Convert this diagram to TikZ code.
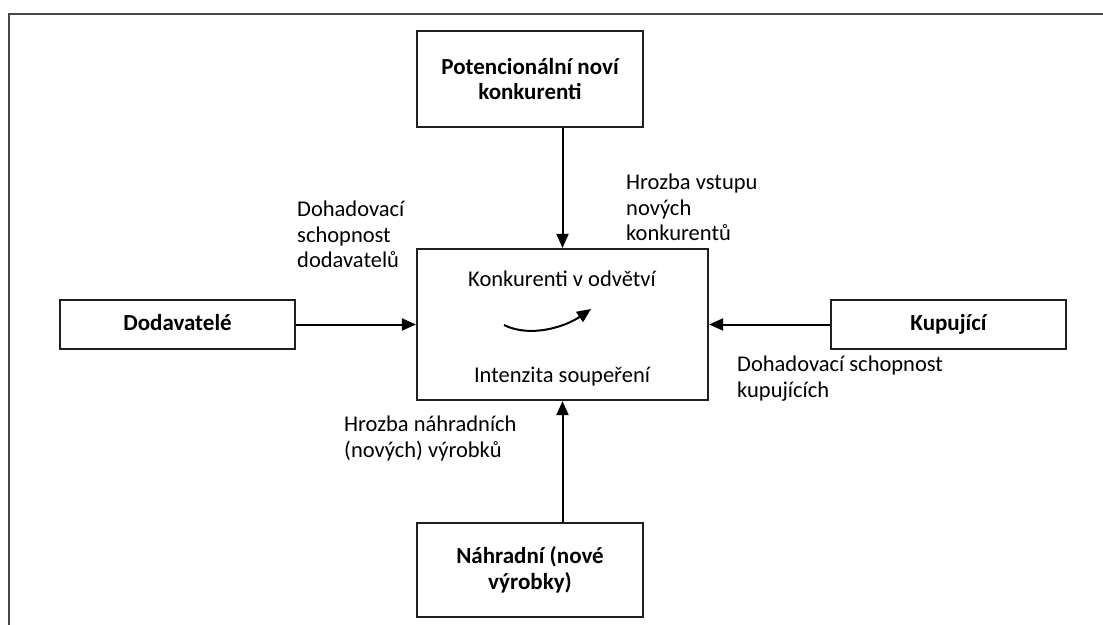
\documentclass[tikz,border=0pt]{standalone}
\usepackage{fontspec}
\setmainfont{Carlito}
\usetikzlibrary{arrows.meta}
\tikzset{
  box/.style={draw=black!88, line width=2.2pt, inner sep=0pt, align=center, font=\fontsize{23}{25.5}\selectfont\bfseries},
  onebox/.style={box, text height=15pt, text depth=4pt},
  lbl/.style={inner sep=0pt, align=left, anchor=north west, font=\fontsize{22.5}{25.5}\selectfont},
  ctext/.style={inner sep=0pt, font=\fontsize{22.5}{25.5}\selectfont},
  arr/.style={line width=2pt, -{Triangle[length=14pt,width=12pt]}},
  frame/.style={draw=black!72, line width=2.6pt}
}
\begin{document}
\begin{tikzpicture}[x=1pt,y=-1pt]
\useasboundingbox (0,0) rectangle (1103,624);
\draw[frame] (1110,14) -- (9,14) -- (9,630);
% boxes
\node[box, minimum width=226pt, minimum height=96pt] (top) at (530,79) {Potencionální noví\\konkurenti};
\node[draw=black!88, line width=2.2pt, minimum width=291pt, minimum height=151pt, inner sep=0pt] (center) at (562.5,324.5) {};
\node[onebox, minimum width=235pt, minimum height=49pt] (dod) at (177.5,324.5) {Dodavatelé};
\node[onebox, minimum width=235pt, minimum height=49pt] (kup) at (948.5,324.5) {Kupující};
\node[box, minimum width=226pt, minimum height=94pt] (bot) at (530,570) {Náhradní (nové\\výrobky)};
% centre texts
\node[ctext] (c1) at (562,279) {Konkurenti v odvětví};
\node[ctext] (c2) at (562,377) {Intenzita soupeření};
% curve arrow
\coordinate (cs) at (504,325);
\coordinate (ce) at (591,309);
\draw[line width=2pt, -{Triangle[length=14pt,width=12pt]}] (cs) .. controls (530,338) and (565,327) .. (ce);
% connectors
\draw[arr] (top.south -| center.north) -- (center.north);
\draw[arr] (bot.north -| center.south) -- (center.south);
\draw[arr] (dod.east) -- (center.west);
\draw[arr] (kup.west) -- (center.east);
% labels
\node[lbl] (l1) at (297,201) {Dohadovací\\schopnost\\dodavatelů};
\node[lbl] (l2) at (626,174) {Hrozba vstupu\\nových\\konkurentů};
\node[lbl] (l3) at (737,356) {Dohadovací schopnost\\kupujících};
\node[lbl] (l4) at (344,416) {Hrozba náhradních\\(nových) výrobků};
\end{tikzpicture}
\end{document}
